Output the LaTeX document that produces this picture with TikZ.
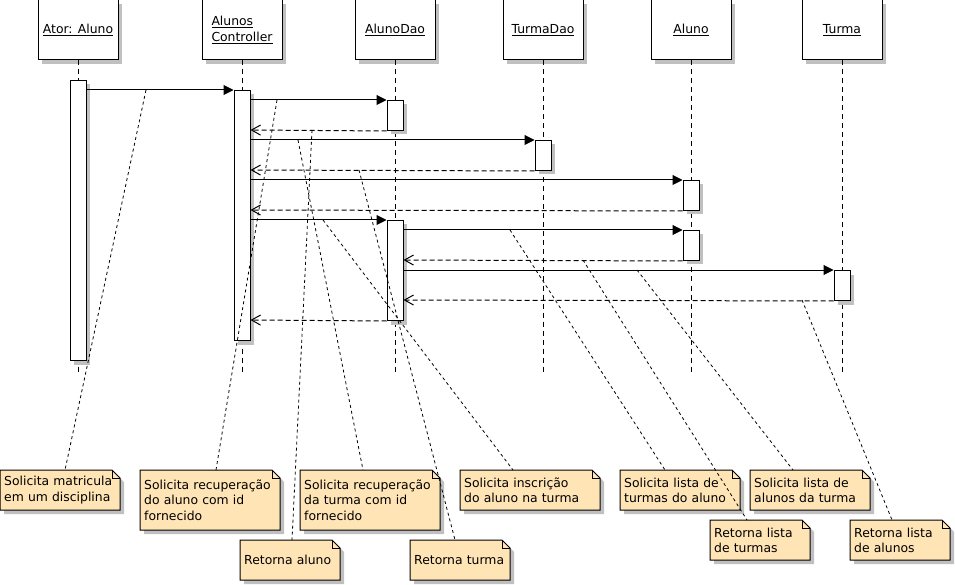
\documentclass[tikz,border=0pt]{standalone}
\usepackage{fontspec}
\setmainfont{DejaVu Sans}
\usetikzlibrary{arrows.meta,calc,shadows}
\definecolor{notefill}{HTML}{FFE4B5}
\definecolor{shadowgray}{HTML}{C0C0C0}
\newcommand\umlfont{\fontsize{12.4}{15.5}\selectfont}

\tikzset{
  boxshadow/.style={drop shadow={shadow xshift=4pt, shadow yshift=-4pt, fill=shadowgray, opacity=1}},
  objbox/.style={draw=black, line width=1pt, fill=white, minimum width=80pt,
    minimum height=60pt, inner sep=0pt, align=left, font=\umlfont, boxshadow},
  actbar/.style={draw=black, line width=1pt, fill=white, minimum width=16pt,
    inner sep=0pt, anchor=north, boxshadow},
  lifeline/.style={line width=1pt, dash pattern=on 5pt off 4pt},
  call/.style={line width=1pt, -{Triangle[length=10pt,width=10pt]}},
  reply/.style={line width=1pt, dash pattern=on 5pt off 3pt,
    -{Straight Barb[length=9pt,width=10pt]}},
  notelink/.style={line width=0.8pt, dash pattern=on 3pt off 3pt},
  notebody/.style={draw=black, line width=1pt, fill=notefill},
  notetext/.style={anchor=north west, inner xsep=4pt, inner ysep=0pt,
    align=left, font=\umlfont},
}

% UML note with folded corner: name, left, top, width, height, text
\newcommand\umlnote[6]{%
  \fill[shadowgray] (#2+4,#3+4) -- (#2+#4-4,#3+4) -- (#2+#4+4,#3+12)
    -- (#2+#4+4,#3+#5+4) -- (#2+4,#3+#5+4) -- cycle;
  \draw[notebody] (#2,#3) -- (#2+#4-8,#3) -- (#2+#4,#3+8)
    -- (#2+#4,#3+#5) -- (#2,#3+#5) -- cycle;
  \draw[line width=0.8pt] (#2+#4-8,#3) -- (#2+#4-8,#3+8) -- (#2+#4,#3+8);
  \pgfmathsetlengthmacro\notetw{#4-8}%
  \node[notetext, text width=\notetw, minimum height=#5pt] (#1) at (#2,#3) {#6};
}

\begin{document}
\begin{tikzpicture}[x=1pt,y=-1pt]
\useasboundingbox (0,0) rectangle (955,585);
\coordinate (bottom) at (0,375);

% object headers
\node[objbox] (hActor) at (78,30) {\underline{Ator: Aluno}};
\node[objbox] (hCtrl)  at (242,30) {\underline{Alunos}\\\underline{Controller}};
\node[objbox] (hADao)  at (395,30) {\underline{AlunoDao}};
\node[objbox] (hTDao)  at (543,30) {\underline{TurmaDao}};
\node[objbox] (hAluno) at (691,30) {\underline{Aluno}};
\node[objbox] (hTurma) at (842,30) {\underline{Turma}};

% lifelines
\foreach \h in {hActor,hCtrl,hADao,hTDao,hAluno,hTurma}
  \draw[lifeline] (\h.south) -- (\h.south |- bottom);

% activation bars
\node[actbar, minimum height=280pt] (aActor) at (78,80) {};
\node[actbar, minimum height=250pt] (aCtrl)  at (242,90) {};
\node[actbar, minimum height=30pt]  (aDao1)  at (395,100) {};
\node[actbar, minimum height=30pt]  (aTDao)  at (543,140) {};
\node[actbar, minimum height=30pt]  (aAl1)   at (691,180) {};
\node[actbar, minimum height=100pt] (aDao2)  at (395,220) {};
\node[actbar, minimum height=30pt]  (aAl2)   at (691,230) {};
\node[actbar, minimum height=30pt]  (aTur)   at (842,270) {};

% messages and replies
\draw[call]  ($(aActor.north east)+(0,10)$) -- (aCtrl.north west);
\draw[call]  ($(aCtrl.north east)+(0,10)$) -- (aDao1.north west);
\draw[reply] (aDao1.south west) -- ($(aCtrl.north east)+(0,40)$);
\draw[call]  ($(aCtrl.north east)+(0,50)$) -- (aTDao.north west);
\draw[reply] (aTDao.south west) -- ($(aCtrl.north east)+(0,80)$);
\draw[call]  ($(aCtrl.north east)+(0,90)$) -- (aAl1.north west);
\draw[reply] (aAl1.south west) -- ($(aCtrl.north east)+(0,120)$);
\draw[call]  ($(aCtrl.north east)+(0,130)$) -- (aDao2.north west);
\draw[call]  ($(aDao2.north east)+(0,10)$) -- (aAl2.north west);
\draw[reply] (aAl2.south west) -- ($(aDao2.north east)+(0,40)$);
\draw[call]  ($(aDao2.north east)+(0,50)$) -- (aTur.north west);
\draw[reply] (aTur.south west) -- ($(aDao2.north east)+(0,80)$);
\draw[reply] (aDao2.south west) -- ($(aCtrl.north east)+(0,230)$);

% notes
\umlnote{nMatricula}{0}{470}{120}{40}{Solicita matricula\\em um disciplina}
\umlnote{nRecAluno}{140}{470}{140}{60}{Solicita recuperação\\do aluno com id\\fornecido}
\umlnote{nRecTurma}{300}{470}{140}{60}{Solicita recuperação\\da turma com id\\fornecido}
\umlnote{nRetAluno}{240}{540}{100}{40}{Retorna aluno}
\umlnote{nRetTurma}{410}{540}{100}{40}{Retorna turma}
\umlnote{nInscricao}{460}{470}{140}{40}{Solicita inscrição\\do aluno na turma}
\umlnote{nListaTurmas}{620}{470}{120}{40}{Solicita lista de\\turmas do aluno}
\umlnote{nRetTurmas}{710}{520}{100}{40}{Retorna lista\\de turmas}
\umlnote{nListaAlunos}{750}{470}{120}{40}{Solicita lista de\\alunos da turma}
\umlnote{nRetAlunos}{850}{520}{100}{40}{Retorna lista\\de alunos}

% anchor points of the note links on the messages
\coordinate (kMatricula)   at (146,90);
\coordinate (kRecAluno)    at (277,100);
\coordinate (kRetAluno)    at (312,130);
\coordinate (kRecTurma)    at (298,140);
\coordinate (kRetTurma)    at (359,170);
\coordinate (kInscricao)   at (323,220);
\coordinate (kListaTurmas) at (510,230);
\coordinate (kRetTurmas)   at (583,260);
\coordinate (kListaAlunos) at (637,270);
\coordinate (kRetAlunos)   at (802,300);

% note links
\draw[notelink] (kMatricula)   -- ($(nMatricula.north west)+(65,0)$);
\draw[notelink] (kRecAluno)    -- ($(nRecAluno.north west)+(76,0)$);
\draw[notelink] (kRetAluno)    -- ($(nRetAluno.north west)+(52,0)$);
\draw[notelink] (kRecTurma)    -- ($(nRecTurma.north west)+(63,0)$);
\draw[notelink] (kRetTurma)    -- ($(nRetTurma.north west)+(45,0)$);
\draw[notelink] (kInscricao)   -- ($(nInscricao.north west)+(53,0)$);
\draw[notelink] (kListaTurmas) -- ($(nListaTurmas.north west)+(45,0)$);
\draw[notelink] (kRetTurmas)   -- ($(nRetTurmas.north west)+(37,0)$);
\draw[notelink] (kListaAlunos) -- ($(nListaAlunos.north west)+(43,0)$);
\draw[notelink] (kRetAlunos)   -- ($(nRetAlunos.north west)+(42,0)$);
\end{tikzpicture}
\end{document}
